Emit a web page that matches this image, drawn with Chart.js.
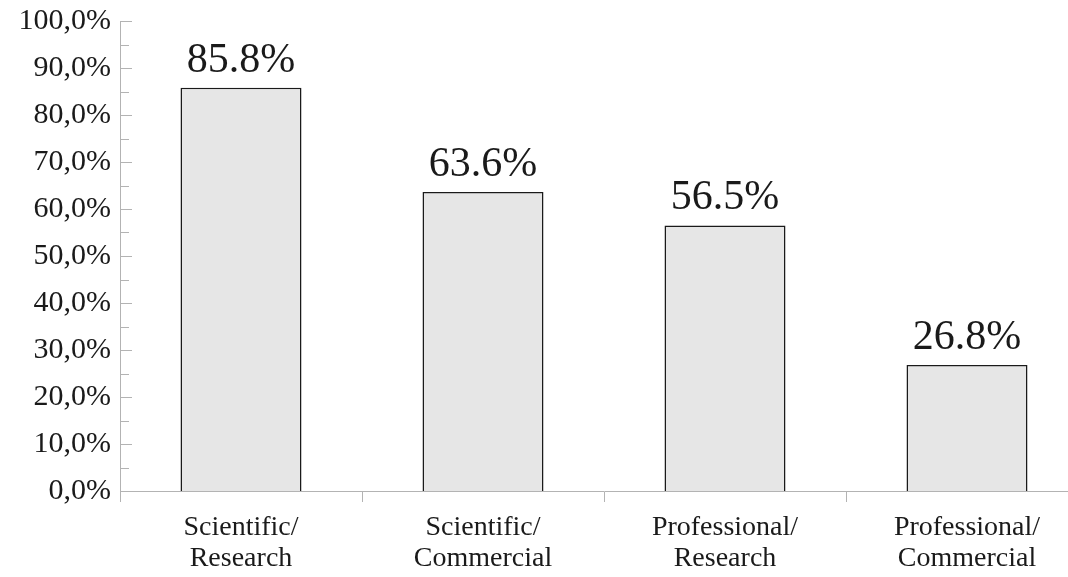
<!DOCTYPE html>
<html>
<head>
<meta charset="utf-8">
<script src="https://cdn.jsdelivr.net/npm/chart.js@4/dist/chart.umd.min.js"></script>
<style>
html, body { margin: 0; padding: 0; overflow: hidden; background: #fff; }
#wrap { width: 1088px; height: 577px; }
</style>
</head>
<body>
<div id="wrap"><canvas id="myChart"></canvas></div>
<script>
var categories = [["Scientific/", "Research"], ["Scientific/", "Commercial"], ["Professional/", "Research"], ["Professional/", "Commercial"]];
var shares = [85.8, 63.6, 56.5, 26.8];
var yTicks = [0, 10, 20, 30, 40, 50, 60, 70, 80, 90, 100];

var axisGrey = '#b3b3b3';
var ink = '#1a1a1a';
var serif = '"Liberation Serif", "Times New Roman", serif';

// value labels above bars
var valueLabels = {
  id: 'valueLabels',
  afterDatasetsDraw: function(chart) {
    var ctx = chart.ctx;
    var meta = chart.getDatasetMeta(0);
    ctx.save();
    ctx.font = '42px ' + serif;
    ctx.fillStyle = ink;
    ctx.textAlign = 'center';
    ctx.textBaseline = 'alphabetic';
    meta.data.forEach(function(bar, i) {
      ctx.fillText(shares[i].toFixed(1) + '%', bar.x, bar.y - 16);
    });
    ctx.restore();
  }
};

// small ticks pointing into the plot on the y axis (major + minor)
var innerTicks = {
  id: 'innerTicks',
  afterDraw: function(chart) {
    var ctx = chart.ctx;
    var y = chart.scales.y;
    var left = chart.chartArea.left;
    ctx.save();
    ctx.strokeStyle = axisGrey;
    ctx.lineWidth = 1;
    for (var v = 0; v <= 100; v += 5) {
      var py = Math.round(y.getPixelForValue(v)) + 0.5;
      ctx.beginPath();
      ctx.moveTo(left, py);
      ctx.lineTo(left + (v % 10 === 0 ? 12 : 9), py);
      ctx.stroke();
    }
    ctx.restore();
  }
};

var ctx = document.getElementById('myChart').getContext('2d');

var myChart = new Chart(ctx, {
  type: 'bar',
  data: {
    labels: categories,
    datasets: [{
      data: shares,
      backgroundColor: '#e6e6e6',
      borderColor: ink,
      borderWidth: 1.5,
      barPercentage: 0.5,
      categoryPercentage: 1
    }]
  },
  options: {
    responsive: true,
    maintainAspectRatio: false,
    animation: false,
    layout: { padding: { top: 0, right: 0, left: 0, bottom: 0 } },
    plugins: {
      legend: { display: false },
      tooltip: { enabled: false }
    },
    scales: {
      x: {
        grid: { display: true, offset: true, drawOnChartArea: false, drawTicks: true, tickLength: 11, color: axisGrey },
        border: { display: true, color: axisGrey, width: 1 },
        ticks: { color: ink, font: { family: serif, size: 28, lineHeight: 1.1 }, padding: 10, maxRotation: 0, autoSkip: false },
        afterFit: function(scale) { scale.height = 86; }
      },
      y: {
        min: 0,
        max: 100,
        afterBuildTicks: function(scale) {
          scale.ticks = yTicks.map(function(v) { return { value: v }; });
        },
        grid: { display: false, drawTicks: false },
        border: { display: true, color: axisGrey, width: 1 },
        ticks: {
          color: ink,
          font: { family: serif, size: 30, lineHeight: 0.8 },
          padding: 9,
          callback: function(v) { return v.toFixed(1).replace('.', ',') + '%'; }
        },
        afterFit: function(scale) { scale.width = 120; }
      }
    }
  },
  plugins: [valueLabels, innerTicks]
});
</script>
</body>
</html>
